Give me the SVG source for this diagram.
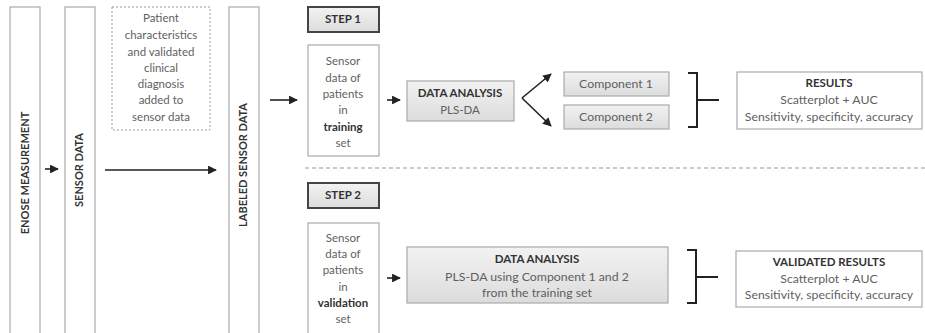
<svg xmlns="http://www.w3.org/2000/svg" width="925" height="333" viewBox="0 0 925 333">
<defs>
<linearGradient id="g" x1="0" y1="0" x2="0" y2="1"><stop offset="0" stop-color="#f2f2f2"/><stop offset="1" stop-color="#dcdcdc"/></linearGradient>
<marker id="ah" viewBox="0 0 10 10" refX="9" refY="5" markerWidth="5.5" markerHeight="5.5" orient="auto"><path d="M0,0 L10,5 L0,10 z" fill="#222"/></marker>
<style>
text{font-family:Lato,"Open Sans","Liberation Sans",sans-serif;fill:#5f5f5f;font-size:11.5px;text-anchor:middle}
.b{font-weight:bold;fill:#333}
.v{font-weight:bold;fill:#333;font-size:11px}
.m{font-size:12.3px}
.box{fill:#fff;stroke:#aaa;stroke-width:1.2}
.gbox{fill:url(#g);stroke:#aaa;stroke-width:1.2}
.step{fill:url(#g);stroke:#444;stroke-width:2}
.dot{fill:#fff;stroke:#999;stroke-width:1;stroke-dasharray:2,2}
.ln{stroke:#222;stroke-width:1.6;fill:none}
.br{stroke:#222;stroke-width:2;fill:none}
</style>
</defs>
<g id="enose"><rect class="box" x="10" y="7" width="30" height="330"/><text class="v" transform="translate(29,173) rotate(-90)">ENOSE MEASUREMENT</text></g>
<g id="sensor"><rect class="box" x="65" y="7" width="30" height="330"/><text class="v" transform="translate(83,170) rotate(-90)">SENSOR DATA</text></g>
<g id="patient"><rect class="dot" x="112" y="7" width="98" height="123"/>
<text x="161" y="22">Patient</text><text x="161" y="39">characteristics</text><text x="161" y="56">and validated</text><text x="161" y="72">clinical</text><text x="161" y="88">diagnosis</text><text x="161" y="104">added to</text><text x="161" y="121">sensor data</text></g>
<g id="labeled"><rect class="box" x="229" y="7" width="30" height="330"/><text class="v" transform="translate(247,165) rotate(-90)">LABELED SENSOR DATA</text></g>
<g id="step1"><rect class="step" x="308" y="7" width="71" height="25"/><text class="b" x="343" y="23" font-size="10.5">STEP 1</text></g>
<g id="train"><rect class="box" x="308" y="45" width="71" height="111"/>
<text x="343" y="65">Sensor</text><text x="343" y="82">data of</text><text x="343" y="98">patients</text><text x="343" y="114">in</text><text class="b" x="343" y="131">training</text><text x="343" y="147">set</text></g>
<g id="da1"><rect class="gbox" x="407" y="81" width="107" height="40"/><text class="b" x="460" y="97" font-size="11">DATA ANALYSIS</text><text x="460" y="114">PLS-DA</text></g>
<g id="comp1"><rect class="gbox" x="564" y="72" width="105" height="24"/><text class="m" x="616" y="88">Component 1</text></g>
<g id="comp2"><rect class="gbox" x="564" y="105" width="105" height="24"/><text class="m" x="616" y="121">Component 2</text></g>
<g id="results"><rect class="box" x="737" y="72" width="185" height="57"/><text class="b" x="829" y="87" font-size="11">RESULTS</text><text class="m" x="829" y="104">Scatterplot + AUC</text><text class="m" x="829" y="121">Sensitivity, specificity, accuracy</text></g>
<g id="step2"><rect class="step" x="308" y="183" width="71" height="25"/><text class="b" x="343" y="199" font-size="10.5">STEP 2</text></g>
<g id="valid"><rect class="box" x="308" y="223" width="71" height="115"/>
<text x="343" y="242">Sensor</text><text x="343" y="258">data of</text><text x="343" y="274">patients</text><text x="343" y="291">in</text><text class="b" x="343" y="307">validation</text><text x="343" y="323">set</text></g>
<g id="da2"><rect class="gbox" x="407" y="247" width="261" height="56"/><text class="b" x="537" y="263" font-size="11">DATA ANALYSIS</text><text class="m" x="537" y="281">PLS-DA using Component 1 and 2</text><text class="m" x="537" y="297">from the training set</text></g>
<g id="vresults"><rect class="box" x="736" y="251" width="186" height="56"/><text class="b" x="829" y="266" font-size="11">VALIDATED RESULTS</text><text class="m" x="829" y="283">Scatterplot + AUC</text><text class="m" x="829" y="299">Sensitivity, specificity, accuracy</text></g>
<g id="connectors">
<line class="ln" x1="45" y1="169" x2="58" y2="169" marker-end="url(#ah)"/>
<line class="ln" x1="105" y1="170" x2="216" y2="170" marker-end="url(#ah)"/>
<line class="ln" x1="270" y1="100" x2="297" y2="100" marker-end="url(#ah)"/>
<line class="ln" x1="387" y1="100" x2="400" y2="100" marker-end="url(#ah)"/>
<line class="ln" x1="387" y1="278" x2="400" y2="278" marker-end="url(#ah)"/>
<path class="ln" d="M522,98 L551,74" marker-end="url(#ah)"/>
<path class="ln" d="M522,98 L551,126" marker-end="url(#ah)"/>
<path class="br" d="M688,73 H697 V127 H688 M697,100 H719"/>
<path class="br" d="M687,250 H696 V303 H687 M696,277 H718"/>
<line x1="305" y1="168" x2="925" y2="168" stroke="#999" stroke-width="1" stroke-dasharray="4,3"/>
</g>
</svg>
